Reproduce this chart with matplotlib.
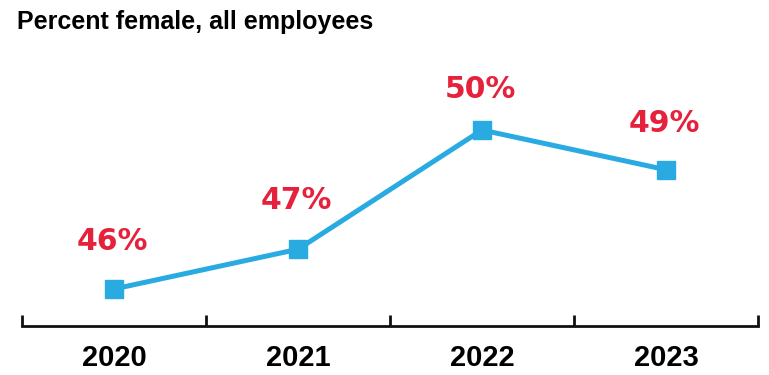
import numpy as np
import matplotlib.pyplot as plt
from matplotlib.ticker import FixedLocator

# data
years = ['2020', '2021', '2022', '2023']
pct_female = [46, 47, 50, 49]
value_labels = ['46%', '47%', '50%', '49%']
label_offsets = [34, 35, 29, 33]  # points above each marker

plt.rcParams['font.family'] = ['Liberation Sans', 'DejaVu Sans']

blue = '#29abe2'
red = '#e5213c'

fig = plt.figure(figsize=(7.69, 3.75), dpi=100)
ax = fig.add_axes([22 / 769, 49 / 375, 736 / 769, 286 / 375])

x = np.arange(len(years)) + 0.5
ax.plot(x, pct_female, color=blue, lw=3.6, marker='s', ms=13,
        solid_joinstyle='miter', zorder=3)

# value labels above the markers
for xi, yi, lab, off in zip(x, pct_female, value_labels, label_offsets):
    ax.annotate(lab, (xi, yi), xytext=(-1, off), textcoords='offset points',
                ha='center', va='center', fontsize=21.5, fontweight='bold',
                color=red, family='DejaVu Sans')

ax.set_xlim(0, len(years))
ax.set_ylim(46 - 37 / 39.75, 50 + 90 / 39.75)

for side in ['top', 'right', 'left']:
    ax.spines[side].set_visible(False)
ax.spines['bottom'].set_linewidth(2)
ax.spines['bottom'].set_color('#111111')

# major ticks as separators, year labels on the minor ticks
ax.xaxis.set_major_locator(FixedLocator(np.arange(len(years) + 1)))
ax.xaxis.set_minor_locator(FixedLocator(x))
ax.set_xticklabels([], minor=False)
ax.set_xticklabels(years, minor=True)
ax.tick_params(axis='x', which='major', direction='in', length=8, width=2,
               color='#111111')
ax.tick_params(axis='x', which='minor', length=0, pad=13, labelsize=21)
for t in ax.get_xticklabels(minor=True):
    t.set_fontweight('bold')
ax.set_yticks([])

fig.text(17 / 769, 1 - 22 / 375, 'Percent female, all employees',
         fontsize=18, fontweight='bold', ha='left', va='center')

fig.savefig('out.png', dpi=100)
